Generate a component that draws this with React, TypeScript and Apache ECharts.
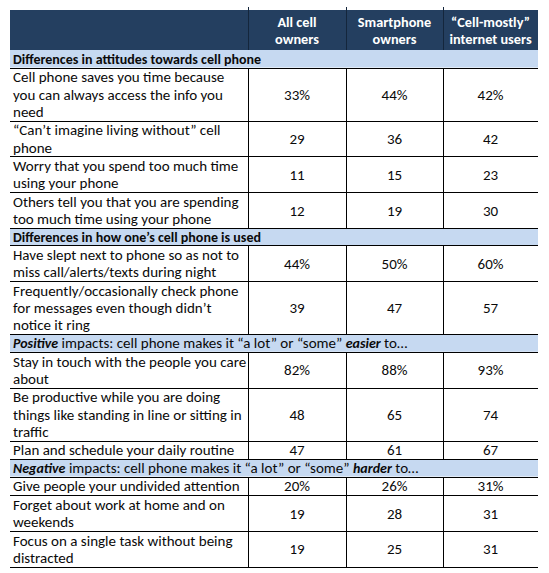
import React, { useEffect, useRef } from "react";
import * as echarts from "echarts";

// ---- data ----
const columnHeaders = [
  ["All cell", "owners"],
  ["Smartphone", "owners"],
  ["“Cell-mostly”", "internet users"],
];
const sectionTitles = [
  "{b|Differences in attitudes towards cell phone}",
  "{b|Differences in how one’s cell phone is used}",
  "{bi|Positive} impacts: cell phone makes it “a lot” or “some” {bi|easier} to…",
  "{bi|Negative} impacts: cell phone makes it “a lot” or “some” {bi|harder} to…",
];
const rowSection = [0, 0, 0, 0, 1, 1, 2, 2, 2, 3, 3, 3];
const rowLabels = [
  ["Cell phone saves you time because", "you can always access the info you", "need"],
  ["“Can’t imagine living without” cell", "phone"],
  ["Worry that you spend too much time", "using your phone"],
  ["Others tell you that you are spending", "too much time using your phone"],
  ["Have slept next to phone so as not to", "miss call/alerts/texts during night"],
  ["Frequently/occasionally check phone", "for messages even though didn’t", "notice it ring"],
  ["Stay in touch with the people you care", "about"],
  ["Be productive while you are doing", "things like standing in line or sitting in", "traffic"],
  ["Plan and schedule your daily routine"],
  ["Give people your undivided attention"],
  ["Forget about work at home and on", "weekends"],
  ["Focus on a single task without being", "distracted"],
];
const allCellOwners = [33, 29, 11, 12, 44, 39, 82, 48, 47, 20, 19, 19];
const smartphoneOwners = [44, 36, 15, 19, 50, 47, 88, 65, 61, 26, 28, 25];
const cellMostlyUsers = [42, 42, 23, 30, 60, 57, 93, 74, 67, 31, 31, 31];

// ---- layout / style ----
const FONT = 'Carlito, Lato, "Open Sans", sans-serif';
const FS = 15;
const FS_BOLD = 14;
const COLS = [10, 248, 346, 443, 538];
const TEXT_X = 13;
const HEADER_TOP = 10;
const HEADER_BOTTOM = 50;
const LINE = 17.2;
const PAD = 1.4;
const SEC_H = 17.5;
const HEADER_BG = "#243f60";
const SECTION_BG = "#c6d9f1";
const INK = "#0a0a0a";

function buildGraphic() {
  const els: any[] = [];
  const W = COLS[4] - COLS[0];
  els.push({
    type: "rect",
    shape: { x: COLS[0], y: HEADER_TOP, width: W, height: HEADER_BOTTOM - HEADER_TOP },
    style: { fill: HEADER_BG },
  });
  for (let c = 1; c <= 3; c++) {
    const x = Math.round(COLS[c]) + 0.5;
    els.push({
      type: "line",
      shape: { x1: x, y1: 7, x2: x, y2: HEADER_BOTTOM },
      style: { stroke: "#14263c", lineWidth: 1 },
    });
  }
  columnHeaders.forEach((lines, i) => {
    const cx = (COLS[i + 1] + COLS[i + 2]) / 2;
    lines.forEach((t, j) => {
      els.push({
        type: "text",
        x: cx,
        y: 22.4 + j * 16.4,
        style: {
          text: t,
          fill: "#ffffff",
          font: `bold ${FS_BOLD + 0.3}px ${FONT}`,
          textAlign: "center",
          textVerticalAlign: "middle",
        },
      });
    });
  });

  let y = HEADER_BOTTOM;
  const hLines: number[] = [];
  let prevSection = -1;
  rowLabels.forEach((label, r) => {
    const sec = rowSection[r];
    let first = false;
    if (sec !== prevSection) {
      prevSection = sec;
      first = true;
      els.push({
        type: "rect",
        shape: { x: COLS[0], y, width: W, height: SEC_H },
        style: { fill: SECTION_BG },
      });
      els.push({
        type: "text",
        x: TEXT_X,
        y: y + SEC_H / 2 + 0.5,
        style: {
          text: sectionTitles[sec],
          fill: INK,
          font: `${FS}px ${FONT}`,
          textVerticalAlign: "middle",
          rich: {
            b: { fontWeight: "bold", fontSize: FS_BOLD, fontFamily: FONT, fill: INK },
            bi: {
              fontStyle: "italic",
              fontWeight: "bold",
              fontSize: FS_BOLD,
              fontFamily: FONT,
              fill: INK,
            },
          },
        },
      });
      if (sec > 0) hLines.push(y);
      y += SEC_H;
    }
    const h = label.length * LINE + PAD;
    const top = y;
    hLines.push(top);
    label.forEach((t, j) => {
      els.push({
        type: "text",
        x: TEXT_X,
        y: top + PAD / 2 + LINE / 2 + j * LINE + 0.5,
        style: {
          text: t,
          fill: INK,
          font: `${FS}px ${FONT}`,
          textVerticalAlign: "middle",
        },
      });
    });
    const vals = [allCellOwners[r], smartphoneOwners[r], cellMostlyUsers[r]];
    vals.forEach((v, c) => {
      els.push({
        type: "text",
        x: (COLS[c + 1] + COLS[c + 2]) / 2,
        y: top + h / 2 + 0.5,
        style: {
          text: first ? `${v}%` : `${v}`,
          fill: INK,
          font: `${FS}px ${FONT}`,
          textAlign: "center",
          textVerticalAlign: "middle",
        },
      });
    });
    for (let c = 1; c <= 3; c++) {
      const x = Math.round(COLS[c]) + 0.5;
      els.push({
        type: "line",
        shape: { x1: x, y1: Math.round(top), x2: x, y2: Math.round(top + h) },
        style: { stroke: "#000000", lineWidth: 1 },
      });
    }
    y += h;
    hLines.push(y);
  });
  const seen = new Set<number>();
  hLines.forEach((ly) => {
    const yy = Math.round(ly) + 0.5;
    if (seen.has(yy)) return;
    seen.add(yy);
    els.push({
      type: "line",
      shape: { x1: COLS[0], y1: yy, x2: COLS[4], y2: yy },
      style: { stroke: "#000000", lineWidth: 1 },
    });
  });
  return els;
}

export default function App() {
  const ref = useRef<HTMLDivElement>(null);
  useEffect(() => {
    document.body.style.margin = "0";
    if (!ref.current) return;
    const chart = echarts.init(ref.current, null, { renderer: "svg" });
    chart.setOption({
      animation: false,
      backgroundColor: "#ffffff",
      graphic: { elements: buildGraphic() },
    });
    return () => chart.dispose();
  }, []);
  return (
    <div
      ref={ref}
      style={{ position: "absolute", left: 0, top: 0, width: 549, height: 573 }}
    />
  );
}
